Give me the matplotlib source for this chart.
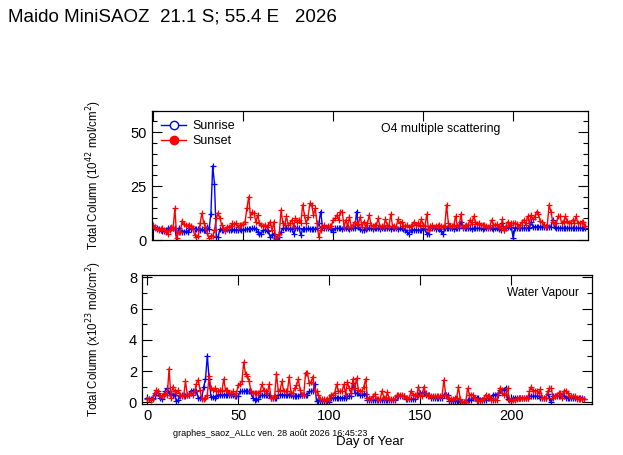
import matplotlib
matplotlib.use("Agg")
import matplotlib.pyplot as plt
from matplotlib.lines import Line2D
from matplotlib.ticker import MultipleLocator
import numpy as np

plt.rcParams['font.family'] = ['Liberation Sans', 'DejaVu Sans']

days = list(range(0, 241))

o4_sunset = [
    7.0, 5.5, 5.0, 4.5, 5.0, 5.4, 4.8, 3.9, 3.0, 4.5,
    6.2, 5.5, 14.7, 0.8, 3.9, 3.5, 9.0, 7.5, 7.0, 6.5,
    7.0, 6.5, 5.0, 2.3, 1.5, 1.8, 7.7, 12.4, 8.0, 6.2,
    3.1, 0.8, 2.0, 1.9, 4.6, 10.0, 12.7, 10.0, 7.0, 5.5,
    4.2, 6.2, 6.0, 6.5, 7.7, 7.5, 7.7, 6.2, 6.8, 7.0,
    7.5, 8.5, 14.7, 20.0, 10.8, 13.0, 12.4, 8.5, 11.6, 7.7,
    7.0, 6.5, 7.0, 6.2, 7.0, 8.5, 4.6, 8.5, 0.5, 1.5,
    3.0, 14.0, 7.7, 7.0, 11.0, 7.0, 8.0, 9.3, 6.2, 10.0,
    8.5, 9.3, 8.0, 16.3, 11.6, 7.7, 10.8, 17.0, 16.3, 11.6,
    14.7, 7.7, 1.2, 4.6, 6.5, 6.8, 6.2, 6.5, 6.3, 6.6,
    9.3, 10.0, 11.6, 9.3, 13.2, 13.2, 6.2, 9.3, 6.2, 10.8,
    6.2, 7.0, 8.5, 7.0, 7.5, 10.8, 6.2, 8.5, 6.2, 7.7,
    11.6, 7.0, 6.5, 7.0, 7.0, 10.0, 6.2, 6.5, 6.2, 9.6,
    7.0, 6.5, 12.0, 6.2, 6.5, 6.2, 9.6, 7.7, 8.5, 6.5,
    6.5, 6.8, 6.2, 6.5, 7.0, 8.5, 7.0, 7.7, 6.5, 9.6,
    7.0, 6.5, 12.0, 4.6, 6.5, 6.8, 6.2, 6.5, 6.5, 6.8,
    6.5, 6.2, 6.5, 16.3, 7.7, 6.5, 6.5, 6.8, 11.0, 6.5,
    7.0, 12.0, 6.2, 6.5, 6.8, 7.0, 9.3, 7.5, 11.0, 8.5,
    7.5, 7.7, 7.0, 7.0, 7.0, 6.5, 6.2, 6.2, 9.3, 7.0,
    7.0, 7.2, 6.2, 5.4, 9.6, 4.6, 6.5, 8.5, 7.0, 7.7,
    7.7, 8.0, 7.5, 6.2, 7.0, 8.5, 9.3, 7.0, 11.0, 8.0,
    11.6, 9.6, 10.8, 13.2, 12.0, 9.0, 8.5, 7.0, 6.2, 7.0,
    16.3, 13.2, 8.5, 8.0, 7.7, 11.0, 11.0, 7.7, 8.5, 11.0,
    9.0, 7.7, 8.0, 9.3, 8.0, 11.0, 7.7, 8.0, 8.5, 8.5,
    6.5,
]

o4_sunrise = [
    5.5, 6.0, 5.5, 5.0, 4.5, 4.3, 4.3, 4.5, 5.4, 5.4,
    5.5, 5.4, 5.4, 0.0, 5.4, 4.5, 3.9, 3.9, 4.0, 3.9,
    5.4, 5.2, 5.4, 5.0, 5.0, 5.0, 4.8, 5.0, 4.6, 4.6,
    6.2, 5.0, 12.0, 34.4, 26.0, 1.5, 1.5, 5.0, 4.8, 4.6,
    4.6, 5.0, 4.6, 4.8, 5.0, 4.6, 4.6, 4.8, 5.0, 4.6,
    4.6, 5.0, 5.0, 5.2, 5.0, 5.4, 5.4, 5.0, 3.5, 3.0,
    3.0, 4.6, 4.6, 4.6, 4.0, 1.5, 2.3, 3.0, 0.8, 0.0,
    1.5, 3.9, 5.4, 5.4, 5.4, 5.4, 5.2, 5.0, 3.0, 5.4,
    5.4, 5.4, 2.3, 5.2, 5.2, 5.0, 5.4, 5.2, 5.2, 5.0,
    5.2, 5.4, 7.7, 13.2, 6.2, 5.4, 5.4, 5.4, 5.4, 5.2,
    3.9, 5.4, 5.4, 5.4, 5.4, 5.2, 5.4, 5.4, 5.4, 5.2,
    5.4, 5.4, 5.4, 13.2, 6.2, 5.0, 4.6, 4.6, 5.0, 5.4,
    5.4, 5.4, 5.2, 5.4, 5.4, 5.4, 5.2, 5.4, 5.4, 5.4,
    5.4, 5.4, 5.2, 5.4, 5.4, 5.4, 5.2, 5.4, 5.4, 5.0,
    4.6, 3.9, 2.8, 4.6, 4.6, 4.6, 4.8, 4.6, 4.6, 4.6,
    5.4, 5.0, 3.0, 3.0, 5.4, 5.4, 5.4, 5.2, 5.4, 5.0,
    4.0, 2.6, 5.4, 5.4, 5.4, 5.4, 5.4, 5.2, 5.4, 5.4,
    5.4, 8.5, 5.4, 5.4, 5.4, 5.4, 5.4, 5.2, 5.4, 5.4,
    5.4, 5.4, 5.4, 5.2, 5.4, 5.4, 5.4, 5.4, 5.4, 5.2,
    5.4, 5.4, 5.0, 4.6, 7.7, 4.6, 5.8, 6.2, 6.2, 6.0,
    1.0, 5.6, 5.6, 5.4, 5.6, 5.6, 5.4, 5.6, 5.6, 5.4,
    8.5, 6.2, 6.2, 6.2, 6.0, 6.2, 6.2, 6.0, 6.2, 6.2,
    6.0, 6.2, 9.3, 6.0, 5.6, 5.5, 5.5, 5.6, 5.5, 5.5,
    5.5, 5.6, 5.5, 5.5, 5.6, 5.5, 5.5, 5.6, 5.5, 5.5,
    5.5,
]

h2o_sunset = [
    0.2, 0.2, 0.15, 0.25, 0.6, 0.8, 0.7, 0.4, 0.4, 0.5,
    0.6, 0.5, 2.17, 0.3, 1.0, 0.7, 0.6, 0.8, 0.5, 0.4,
    0.4, 1.35, 0.5, 0.5, 0.6, 0.5, 0.7, 1.2, 1.45, 0.8,
    0.2, 0.2, 0.3, 0.5, 1.68, 0.9, 0.8, 0.9, 0.7, 0.7,
    0.8, 0.7, 1.5, 0.8, 0.8, 0.6, 0.6, 0.7, 0.5, 0.6,
    1.1, 1.2, 1.35, 2.58, 1.8, 1.7, 1.35, 0.7, 0.6, 0.6,
    0.6, 0.6, 0.7, 1.15, 0.8, 0.7, 0.6, 1.15, 0.3, 0.3,
    0.4, 1.85, 0.7, 0.8, 1.35, 0.7, 0.7, 0.7, 1.65, 0.6,
    0.6, 0.9, 1.1, 1.5, 0.8, 0.5, 0.5, 1.9, 1.9, 1.25,
    1.3, 1.65, 0.7, 0.7, 0.5, 0.2, 0.2, 0.2, 0.15, 0.2,
    0.2, 0.5, 0.5, 0.6, 1.15, 0.7, 0.7, 0.7, 1.15, 0.5,
    1.3, 0.9, 0.6, 1.5, 0.9, 1.55, 0.8, 0.7, 0.7, 1.0,
    1.5, 0.3, 0.3, 0.25, 0.4, 0.55, 0.2, 0.2, 0.2, 0.75,
    0.3, 0.3, 0.65, 0.2, 0.2, 0.2, 0.2, 0.45, 0.45, 0.5,
    0.45, 0.4, 0.3, 0.3, 0.3, 0.75, 0.5, 0.5, 0.4, 1.0,
    0.5, 0.4, 1.0, 0.6, 0.4, 0.4, 0.4, 0.4, 0.4, 0.4,
    0.4, 0.4, 0.4, 1.45, 0.5, 0.3, 0.25, 0.25, 0.2, 0.3,
    0.3, 1.0, 0.2, 0.05, 0.05, 0.05, 0.9, 0.5, 0.5, 0.5,
    0.3, 0.1, 0.1, 0.1, 0.15, 0.3, 0.5, 0.4, 0.4, 0.15,
    0.15, 0.15, 0.15, 0.6, 0.95, 0.6, 0.5, 0.5, 0.9, 0.15,
    0.15, 0.15, 0.15, 0.2, 0.3, 0.3, 0.3, 0.3, 0.3, 0.3,
    0.7, 1.0, 0.75, 0.75, 0.75, 0.6, 0.85, 0.3, 0.3, 0.3,
    0.7, 0.9, 0.9, 0.3, 0.4, 0.5, 0.6, 0.6, 0.3, 0.75,
    0.75, 0.6, 0.4, 0.4, 0.4, 0.4, 0.25, 0.25, 0.25, 0.25,
    0.25,
]

h2o_sunrise = [
    0.3, 0.2, 0.25, 0.3, 0.5, 0.6, 0.6, 0.3, 0.25, 0.5,
    0.75, 0.9, 0.6, 0.5, 0.5, 0.5, 0.1, 0.15, 0.4, 0.45,
    0.45, 0.4, 0.5, 0.5, 0.75, 0.75, 0.7, 0.75, 0.3, 0.3,
    0.3, 1.0, 1.5, 3.0, 1.5, 0.35, 0.35, 0.3, 0.4, 0.5,
    0.5, 0.5, 0.5, 0.5, 0.5, 0.5, 0.5, 0.5, 0.4, 0.4,
    0.4, 0.7, 0.7, 0.7, 0.75, 0.7, 0.7, 0.6, 0.3, 0.15,
    0.2, 0.2, 0.45, 0.45, 0.45, 0.45, 0.45, 0.45, 0.3, 0.3,
    0.3, 0.3, 0.5, 0.5, 0.5, 0.5, 0.5, 0.5, 0.5, 0.5,
    0.4, 0.4, 0.4, 0.4, 0.5, 0.5, 0.5, 0.5, 0.5, 0.7,
    0.7, 0.7, 1.2, 0.1, 0.1, 0.1, 0.1, 0.1, 0.1, 0.1,
    0.05, 0.3, 0.3, 0.3, 0.3, 0.3, 0.3, 0.3, 0.3, 0.3,
    0.4, 0.4, 0.4, 1.25, 0.6, 0.6, 0.6, 0.45, 0.45, 0.55,
    0.55, 0.15, 0.15, 0.15, 0.15, 0.15, 0.15, 0.15, 0.15, 0.15,
    0.15, 0.15, 0.15, 0.15, 0.15, 0.15, 0.15, 0.4, 0.4, 0.4,
    0.4, 0.4, 0.2, 0.2, 0.2, 0.2, 0.2, 0.2, 0.45, 0.45,
    0.6, 0.6, 0.6, 0.45, 0.45, 0.45, 0.3, 0.3, 0.3, 0.3,
    0.3, 0.3, 0.3, 0.5, 0.5, 0.5, 0.1, 0.1, 0.1, 0.1,
    0.1, 0.1, 0.05, 0.05, 0.05, 0.05, 0.15, 0.15, 0.15, 0.3,
    0.3, 0.3, 0.3, 0.15, 0.15, 0.15, 0.15, 0.3, 0.3, 0.3,
    0.5, 0.5, 0.5, 0.5, 0.8, 0.8, 0.8, 0.95, 0.25, 0.25,
    0.1, 0.3, 0.3, 0.3, 0.3, 0.3, 0.3, 0.3, 0.3, 0.3,
    0.4, 0.4, 0.4, 0.4, 0.4, 0.4, 0.3, 0.3, 0.3, 0.3,
    0.55, 0.3, 0.0, 0.4, 0.4, 0.4, 0.4, 0.4, 0.5, 0.4,
    0.3, 0.3, 0.3, 0.3, 0.3, 0.3, 0.3, 0.3, 0.3, 0.3,
    0.2,
]

title = "Maido MiniSAOZ  21.1 S; 55.4 E   2026"
footnote = "graphes_saoz_ALLc ven. 28 août 2026 16:45:23"

fig = plt.figure(figsize=(6.23, 4.55), dpi=100)
ax1 = fig.add_axes([0.2435, 0.4725, 0.7003, 0.2842])
ax2 = fig.add_axes([0.2279, 0.1121, 0.7218, 0.2835])

BLUE = (0, 0, 1)
RED = (1, 0, 0)

for ax, rise, sset in ((ax1, o4_sunrise, o4_sunset), (ax2, h2o_sunrise, h2o_sunset)):
    ax.plot(days, rise, color=BLUE, lw=1.0, marker='+', ms=3.8, mew=0.9)
    ax.plot(days, sset, color=RED, lw=1.0, marker='+', ms=3.8, mew=0.9)
    ax.tick_params(which='both', direction='in', top=True, right=True, labelsize=10.5)
    ax.tick_params(which='major', length=7, width=0.8)
    ax.tick_params(which='minor', length=3.5, width=0.8)
    ax.xaxis.set_major_locator(MultipleLocator(50))
    for s in ax.spines.values():
        s.set_linewidth(0.9)

ax1.set_xlim(-0.9, 241.6)
ax1.set_ylim(0, 60)
ax1.yaxis.set_major_locator(MultipleLocator(25))
ax1.yaxis.set_minor_locator(MultipleLocator(5))
ax1.set_xticklabels([])
ax1.set_ylabel("Total Column (10$^{42}$ mol/cm$^{2}$)", fontsize=8.3)
ax1.text(0.662, 0.86, "O4 multiple scattering", transform=ax1.transAxes,
         fontsize=8.8, ha='center', va='center')

handles = [
    Line2D([], [], color=BLUE, lw=1.0, marker='o', ms=6, mfc='white', mec=BLUE),
    Line2D([], [], color=RED, lw=1.0, marker='o', ms=6, mfc=RED, mec=RED),
]
ax1.legend(handles, ["Sunrise", "Sunset"], loc='upper left', frameon=False,
           fontsize=9, handlelength=2.0, handletextpad=0.5, borderaxespad=0.55,
           labelspacing=0.25, borderpad=0.2)

ax2.set_xlim(-2.9, 244.2)
ax2.set_ylim(-0.1, 8.15)
ax2.yaxis.set_major_locator(MultipleLocator(2))
ax2.yaxis.set_minor_locator(MultipleLocator(1))
ax2.set_ylabel("Total Column (x10$^{23}$ mol/cm$^{2}$)", fontsize=8.3)
ax2.text(0.972, 0.86, "Water Vapour", transform=ax2.transAxes,
         fontsize=8.6, ha='right', va='center')

ax1.yaxis.set_label_coords(-0.109, 0.5)
ax2.yaxis.set_label_coords(-0.085, 0.5)

fig.text(8 / 623, 1 - 17 / 455, title, fontsize=13.5, ha='left', va='center')
fig.text(173 / 623, 1 - 433 / 455, footnote, fontsize=6.5, ha='left', va='center')
fig.text(370 / 623, 1 - 442.5 / 455, "Day of Year", fontsize=9.5, ha='center', va='center')

fig.savefig("out.png", dpi=100)
